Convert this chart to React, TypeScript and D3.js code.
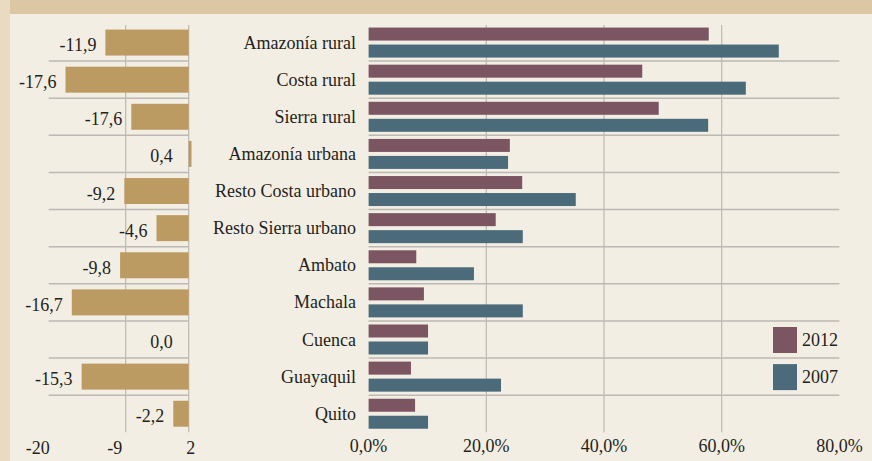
import React, { useEffect } from "react";
import * as d3 from "d3";

const categories = [
  "Amazonía rural",
  "Costa rural",
  "Sierra rural",
  "Amazonía urbana",
  "Resto Costa urbano",
  "Resto Sierra urbano",
  "Ambato",
  "Machala",
  "Cuenca",
  "Guayaquil",
  "Quito",
];
const values2012 = [57.8, 46.5, 49.3, 24.0, 26.1, 21.6, 8.1, 9.4, 10.1, 7.2, 7.9];
const values2007 = [69.7, 64.1, 57.7, 23.7, 35.2, 26.2, 17.9, 26.2, 10.1, 22.5, 10.1];
// bar lengths of the left panel as drawn, and the labels printed beside them
const changeValues = [-11.9, -17.6, -8.2, 0.4, -9.2, -4.6, -9.8, -16.7, 0.0, -15.3, -2.2];
const changeLabels = ["-11,9", "-17,6", "-17,6", "0,4", "-9,2", "-4,6", "-9,8", "-16,7", "0,0", "-15,3", "-2,2"];
const leftTickValues = [-20, -9, 0];
const leftTickLabels = ["-20", "-9", "2"];
const rightTickValues = [0, 20, 40, 60, 80];
const series = ["2012", "2007"];

const W = 872;
const H = 461;
const FONT = "'Liberation Serif', 'Times New Roman', serif";
const BG = "#f3eee3";
const TOP = "#dcc7a4";
const STRIP = "#e8dbc2";
const GOLD = "#bc9b63";
const COLORS: Record<string, string> = { "2012": "#7c5563", "2007": "#4b6b7b" };
const GRID = "#bcb8b3";
const TEXT = "#231f20";

export default function App() {
  useEffect(() => {
    document.body.style.margin = "0";
  }, []);

  const top = 24;
  const bottom = 432.3;

  const rows = d3.scaleBand<string>().domain(categories).range([top, bottom]).padding(0);
  const leftRows = d3
    .scaleBand<string>()
    .domain(categories)
    .range([top, bottom])
    .paddingInner(0.3)
    .paddingOuter(0.15);
  const sub = d3
    .scaleBand<string>()
    .domain(series)
    .range([0, rows.bandwidth()])
    .paddingInner(0.235)
    .paddingOuter(0.209);

  const xl = d3.scaleLinear().domain([-20, 0]).range([48.7, 188.7]);
  const xr = d3.scaleLinear().domain([0, 80]).range([368.6, 839.4]);

  const fmt = (v: number) => d3.format(".1f")(v).replace(".", ",") + "%";

  return (
    <svg width={W} height={H} style={{ display: "block" }} fontFamily={FONT}>
      <rect x={0} y={0} width={W} height={H} fill={BG} />
      <rect x={0} y={0} width={W} height={14} fill={TOP} />
      <rect x={0} y={0} width={10} height={H} fill={STRIP} />

      {/* left panel grid */}
      {categories.slice(1).map((c) => (
        <line
          key={"lh" + c}
          x1={xl(-20)}
          x2={xl(0)}
          y1={rows(c)!}
          y2={rows(c)!}
          stroke={GRID}
          strokeWidth={1.5}
        />
      ))}
      {leftTickValues
        .filter((t) => t > -20)
        .map((t) => (
          <line key={"lv" + t} x1={xl(t)} x2={xl(t)} y1={top + 1} y2={bottom} stroke={GRID} strokeWidth={1.2} />
        ))}

      {/* left bars */}
      {categories.map((c, i) => {
        const v = changeValues[i];
        const x0 = Math.min(xl(v), xl(0));
        const w = Math.abs(xl(v) - xl(0));
        return <rect key={"lb" + c} x={x0} y={leftRows(c)!} width={w} height={leftRows.bandwidth()} fill={GOLD} />;
      })}
      {categories.map((c, i) => {
        const v = changeValues[i];
        const endX = v < 0 ? Math.min(xl(v) - 9, xl(0) - 18) : xl(0) - 16;
        return (
          <text
            key={"ll" + c}
            x={endX}
            y={rows(c)! + rows.bandwidth() / 2 + 8.5}
            textAnchor="end"
            fontSize={18}
            fill={TEXT}
          >
            {changeLabels[i]}
          </text>
        );
      })}
      {leftTickValues.map((t, i) => (
        <text
          key={"lt" + t}
          x={xl(t) + (t < 0 ? -11 : 2)}
          y={454}
          textAnchor="middle"
          fontSize={18}
          fill={TEXT}
        >
          {leftTickLabels[i]}
        </text>
      ))}

      {/* category labels */}
      {categories.map((c) => (
        <text
          key={"cl" + c}
          x={356}
          y={rows(c)! + rows.bandwidth() / 2 + 6}
          textAnchor="end"
          fontSize={18}
          fill={TEXT}
        >
          {c}
        </text>
      ))}

      {/* right panel grid */}
      {categories.slice(1).map((c) => (
        <line
          key={"rh" + c}
          x1={xr(0)}
          x2={xr(80)}
          y1={rows(c)!}
          y2={rows(c)!}
          stroke={GRID}
          strokeWidth={1.5}
        />
      ))}
      {rightTickValues
        .filter((t) => t > 0 && t < 80)
        .map((t) => (
          <line key={"rv" + t} x1={xr(t)} x2={xr(t)} y1={top + 1} y2={bottom} stroke={GRID} strokeWidth={1.2} />
        ))}

      {/* right bars */}
      {categories.map((c, i) => (
        <g key={"rg" + c} transform={`translate(0,${rows(c)})`}>
          {series.map((s) => {
            const v = s === "2012" ? values2012[i] : values2007[i];
            return (
              <rect
                key={s}
                x={xr(0)}
                y={sub(s)!}
                width={xr(v) - xr(0)}
                height={sub.bandwidth()}
                fill={COLORS[s]}
              />
            );
          })}
        </g>
      ))}
      {rightTickValues.map((t) => (
        <text key={"rt" + t} x={xr(t)} y={451.5} textAnchor="middle" fontSize={18} fill={TEXT}>
          {fmt(t)}
        </text>
      ))}

      {/* legend */}
      {series.map((s, i) => {
        const cy = rows(categories[8 + i])! + rows.bandwidth() / 2;
        return (
          <g key={"lg" + s}>
            <rect x={773} y={cy - 12.5} width={24} height={26} fill={COLORS[s]} />
            <text x={802} y={cy + 6.5} fontSize={18} fill={TEXT}>
              {s}
            </text>
          </g>
        );
      })}
    </svg>
  );
}
